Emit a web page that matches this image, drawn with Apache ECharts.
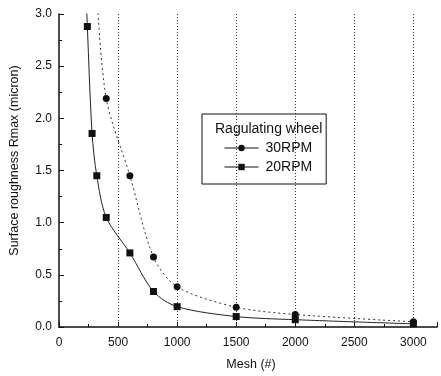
<!DOCTYPE html>
<html><head><meta charset="utf-8">
<script src="https://cdn.jsdelivr.net/npm/echarts@6/dist/echarts.min.js"></script>
<style>html,body{margin:0;padding:0;background:#fff}#c{width:441px;height:376px}</style>
</head><body><div id="c"></div>
<script>
const xTicks = [0, 500, 1000, 1500, 2000, 2500, 3000];
const yTicks = [0.0, 0.5, 1.0, 1.5, 2.0, 2.5, 3.0];
const mesh30 = [320, 400, 600, 800, 1000, 1500, 2000, 3000];
const rpm30 = [3.2, 2.19, 1.45, 0.67, 0.385, 0.19, 0.12, 0.05];
const mesh20 = [220, 240, 280, 320, 400, 600, 800, 1000, 1500, 2000, 3000];
const rpm20 = [3.5, 2.88, 1.855, 1.45, 1.05, 0.71, 0.34, 0.195, 0.10, 0.07, 0.03];
const legendTitle = 'Ragulating wheel';
const seriesNames = ['30RPM', '20RPM'];

const font = 'Liberation Sans, Arial, sans-serif';
const chart = echarts.init(document.getElementById('c'));
chart.setOption({
  animation: false,
  backgroundColor: '#fff',
  grid: {left: 57, right: 4, top: 14, bottom: 49},
  xAxis: {
    type: 'value', min: 0, max: 3200, interval: 500,
    name: 'Mesh (#)', nameLocation: 'middle', nameGap: 31,
    nameTextStyle: {fontFamily: font, fontSize: 12.5, color: '#111', padding: [0, 0, 0, 6]},
    axisLine: {lineStyle: {color: '#111', width: 1.5}},
    axisTick: {inside: true, length: 5, lineStyle: {color: '#111'}},
    minorTick: {show: true, splitNumber: 2, length: 3, lineStyle: {color: '#111'}},
    axisLabel: {fontFamily: font, fontSize: 12, color: '#111', margin: 10,
      formatter: v => xTicks.includes(v) ? String(v) : ''},
    splitLine: {show: true, showMinLine: false, showMaxLine: false,
      lineStyle: {type: [1, 2], color: '#333', width: 1}}
  },
  yAxis: {
    type: 'value', min: 0, max: 3, interval: 0.5,
    name: 'Surface roughness Rmax (micron)', nameLocation: 'middle', nameGap: 38,
    nameTextStyle: {fontFamily: font, fontSize: 12.5, color: '#111', padding: [0, 0, 0, 20]},
    axisLine: {show: true, lineStyle: {color: '#111', width: 1.5}},
    axisTick: {show: true, inside: true, length: 5, lineStyle: {color: '#111'}},
    minorTick: {show: true, splitNumber: 2, length: 3, lineStyle: {color: '#111'}},
    axisLabel: {fontFamily: font, fontSize: 12, color: '#111', margin: 7,
      formatter: v => yTicks.includes(v) ? v.toFixed(1) : ''},
    splitLine: {show: false}
  },
  legend: {
    orient: 'vertical', left: 202, top: 114,
    borderColor: '#111', borderWidth: 1, padding: [27, 14, 10, 22],
    itemWidth: 34, itemHeight: 8, itemGap: 5,
    lineStyle: {type: 'solid', width: 1, color: '#111'},
    textStyle: {fontFamily: font, fontSize: 14, color: '#111', padding: [0, 0, 0, 2]},
    data: seriesNames
  },
  graphic: [{
    type: 'text', left: 215, top: 122,
    style: {text: legendTitle, fontFamily: font, fontSize: 14, fill: '#111'}
  }],
  series: [
    {name: seriesNames[0], type: 'line', smooth: 0.3, clip: true,
     data: mesh30.map((x, i) => [x, rpm30[i]]),
     symbol: 'circle', symbolSize: 7,
     itemStyle: {color: '#111'},
     lineStyle: {color: '#333', width: 1, type: [2, 3]}},
    {name: seriesNames[1], type: 'line', smooth: 0.3, clip: true,
     data: mesh20.map((x, i) => [x, rpm20[i]]),
     symbol: 'rect', symbolSize: 7,
     itemStyle: {color: '#111'},
     lineStyle: {color: '#222', width: 1}}
  ]
});
</script></body></html>
